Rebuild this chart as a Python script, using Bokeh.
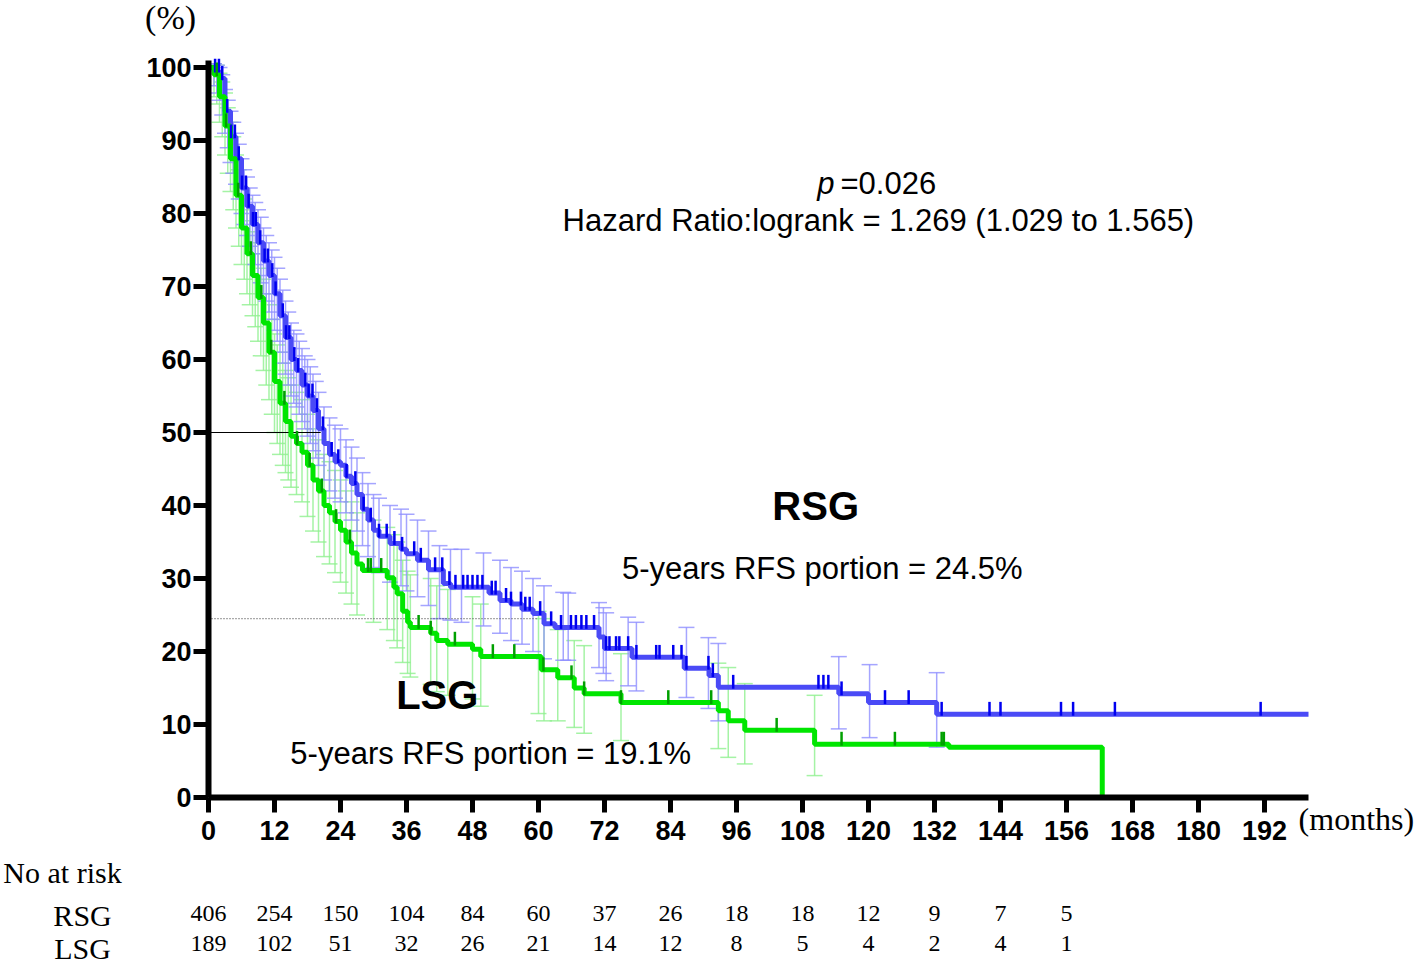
import numpy as np
from bokeh.plotting import figure
from bokeh.models import Range1d, FixedTicker, ColumnDataSource, Whisker, TeeHead
from bokeh.core.properties import value
from bokeh.embed import file_html
from bokeh.resources import INLINE

# ---------------- data ----------------
x_ticks = [0, 12, 24, 36, 48, 60, 72, 84, 96, 108, 120, 132, 144, 156, 168, 180, 192]
y_ticks = [0, 10, 20, 30, 40, 50, 60, 70, 80, 90, 100]

rsg_t = [0, 1, 2, 3, 4, 5, 6, 7, 8, 9, 10, 11, 12, 13, 14, 15, 16, 17, 18, 19, 20, 21, 22, 23, 24,
         25, 26, 27, 28, 29, 30, 31, 33, 35, 36, 38, 40, 42.7, 44, 51, 53, 55, 57, 59, 61, 63,
         71, 72, 77, 86.5, 91, 92.7, 114.6, 120, 132.4, 200]
rsg_s = [100, 99.5, 98.5, 94, 90.5, 87.5, 83.5, 81, 78.5, 76, 73.5, 71.5, 69, 66, 63, 60, 58.5, 56.5,
         55, 53, 50.5, 48.5, 47, 46, 45.5, 44, 43, 41.5, 39.5, 38, 36.6, 35.8, 34.8, 34, 33.4, 32.5,
         31.2, 29.3, 28.8, 28, 27, 26.5, 25.8, 25.2, 23.8, 23.3, 22, 20.4, 19.2, 17.7, 16.7, 15.1,
         14.2, 13, 11.4, 11.4]

lsg_t = [0, 1, 2, 3, 4, 5, 6, 7, 8, 9, 10, 11, 12, 13, 14, 15, 16, 17, 18, 19, 20, 21, 22, 23, 24,
         25, 26, 27, 28, 32.5, 33.7, 34.3, 35.3, 36.2, 36.7, 40.4, 41.5, 43.5, 48, 49.5, 60.5, 63.5,
         66.5, 68.3, 75, 92.7, 94.5, 97.5, 110.2, 134.6, 162.5]
lsg_s = [100, 99, 96, 92, 87.5, 82.5, 78, 74.5, 71.5, 68.5, 65, 61, 57, 54, 51.5, 49.5, 48.5, 47.3,
         45.5, 43.5, 42, 40, 39, 37.8, 36.6, 35, 33.5, 32, 31.1, 30.1, 28.8, 27.9, 25.5, 24, 23.3,
         22.5, 21.5, 21, 20.3, 19.3, 17.5, 16.4, 15, 14.2, 13, 11.9, 10.5, 9.2, 7.3, 6.9, 0]

rsg_censor = [1.2, 1.9, 2.5, 3.4, 4.1, 4.8, 5.5, 6.1, 6.8, 7.3, 8.1, 8.6, 9.4, 10.2, 10.8, 11.6, 12.2,
              13.5, 14.1, 14.7, 15.6, 16.3, 17.6, 18.2, 18.9, 19.7, 20.8, 22.4, 23.6, 25.1, 26.7,
              28.2, 29.5, 31.0, 32.4, 33.8, 35.2, 37.4, 38.6, 41.2, 42.5, 43.8, 44.9, 46.3, 47.1,
              48.0, 48.9, 49.8, 51.5, 52.2, 54.1, 55.0, 56.8, 57.6, 58.4, 60.3, 62.3, 64.1, 65.9,
              66.8, 67.8, 68.7, 70.1, 72.3, 72.9, 74.1, 74.7, 76.3, 77.8, 81.4, 82.0, 84.5, 86.0,
              86.9, 90.9, 91.7, 95.4, 110.9, 111.8, 112.7, 115.1, 123.0, 127.3, 133.3, 142.0, 144.0,
              155.0, 157.2, 164.8, 191.3]
lsg_censor = [1.5, 3.2, 5.4, 7.7, 9.6, 11.4, 13.8, 16.1, 18.4, 20.6, 23.2, 25.7, 29.0, 29.5, 31.4,
              38.2, 40.4, 44.8, 51.7, 55.6, 60.9, 66.0, 68.3, 75.0, 83.6, 91.4, 103.3, 115.1, 124.8,
              133.3, 133.7]

rsg_ci_t = [1, 1.5, 2, 2.5, 3, 3.5, 4, 4.5, 5, 5.5, 6, 6.5, 7, 7.5, 8, 8.5, 9, 9.5, 10, 10.5, 11,
            11.5, 12, 12.5, 13, 13.5, 14, 14.5, 15, 15.5, 16, 16.5, 17, 17.5, 18, 18.5, 19, 19.5,
            20, 21, 22, 23, 24, 25, 26, 27, 28, 29, 30, 31, 33, 35, 36, 38, 40, 42, 44, 46, 50,
            53, 55, 57, 59, 61, 64.5, 65.4, 71, 71.8, 72.3, 76.3, 77.8, 86.9, 90.9, 92.7, 114.6,
            120.2, 132.4]
rsg_ci_lo = [97.5, 96.5, 95.5, 93.5, 91, 89, 87, 85.5, 84, 82, 80, 78.5, 77, 75.5, 74.5, 73, 71.5,
             70.5, 69, 68, 66.5, 65.5, 64, 62.5, 61, 59.5, 58, 56.5, 55, 54, 53.5, 52.5, 51.5, 50.5,
             49.5, 48.5, 47.5, 46.5, 45.5, 43.5, 42, 41, 40.5, 39, 38, 36.5, 34.5, 33, 31.5, 30.8,
             29.5, 29, 28.3, 27.5, 26.3, 24.5, 24.3, 24, 23.5, 22.5, 21.5, 21, 20, 19, 18.8, 18.8,
             17.8, 17, 16, 15.3, 14.6, 13.7, 12.2, 10.5, 9.4, 8.2, 6.9]
rsg_ci_hi = [100.5, 100.3, 100, 99, 97, 95.5, 94, 92.5, 91, 89.5, 87.5, 86, 85, 83.5, 82.5, 81.5,
             80.5, 79.5, 78, 77, 76, 75, 74, 72.5, 71, 69.5, 68, 66.5, 65, 64, 63.5, 62.5, 61.5,
             60.5, 60, 59, 58, 57, 55.5, 53.5, 52, 51, 50.5, 49, 48, 46.5, 44.5, 43, 41.5, 41, 40,
             39.5, 38.8, 38, 36.5, 34.5, 34, 34, 33.5, 32.5, 31.5, 31, 30, 29, 28.1, 28, 26.7, 26,
             25.3, 24.7, 24, 23.3, 21.9, 21.1, 19.3, 18.2, 17.1]

lsg_ci_t = [1, 1.5, 2, 2.5, 3, 3.5, 4, 4.5, 5, 5.5, 6, 6.5, 7, 7.5, 8, 8.5, 9, 9.5, 10, 10.5, 11,
            11.5, 12, 12.5, 13, 13.5, 14, 14.5, 15, 16, 17, 18, 19, 20, 21, 22, 23, 24, 25, 26, 27,
            30, 32.5, 33.7, 34.3, 35.3, 36.2, 36.7, 40.4, 41.5, 43.5, 48, 49.5, 60, 61, 63.5, 66.5,
            68.3, 75, 92.7, 94.5, 97.5, 110.2]
lsg_ci_lo = [96, 95, 92.5, 90.5, 88, 85.5, 83, 80.5, 78, 75.5, 73, 71, 69, 67.5, 66, 64.5, 62.5,
             60.5, 58.5, 56.5, 54.5, 52.5, 50, 48.5, 47, 45.5, 44.5, 43.5, 42.5, 41.5, 40.5, 38.5,
             36.5, 35, 33, 32, 30.8, 29.5, 28, 26.5, 25, 24, 23, 21.5, 20.5, 18.5, 17, 16.5, 15.5,
             14.5, 14, 13.5, 12.5, 11.5, 10.5, 10.5, 9.6, 8.8, 7.8, 6.7, 5.5, 4.6, 3]
lsg_ci_hi = [100.5, 100.3, 99.2, 98, 96.5, 94.5, 92.5, 90.5, 88, 86, 83.5, 82, 80.5, 79, 77.5, 76,
             74.5, 72.5, 71, 69, 67.5, 65.5, 63.5, 62, 61, 59.5, 58.5, 57.5, 56.5, 55.5, 54.5, 52.5,
             50.5, 49, 47, 46, 44.8, 43.5, 42, 40.5, 39, 38, 37, 36, 35, 32.5, 31, 30.5, 30, 29,
             28.5, 27.5, 26.5, 25.5, 24.5, 23, 21.5, 20.8, 19.7, 18.4, 17.8, 15.6, 14]

median_rsg = 20.4
five_year = 60
rfs5_rsg = 24.5

risk_months = [0, 12, 24, 36, 48, 60, 72, 84, 96, 108, 120, 132, 144, 156]
risk_rsg = ["406", "254", "150", "104", "84", "60", "37", "26", "18", "18", "12", "9", "7", "5"]
risk_lsg = ["189", "102", "51", "32", "26", "21", "14", "12", "8", "5", "4", "2", "4", "1"]

# ---------------- colours ----------------
BLUE_LINE = "#4a4af6"
BLUE_CENS = "#0000f0"
BLUE_CI = "#8f8fff"
GREEN_LINE = "#00e600"
GREEN_CENS = "#00a000"
GREEN_CI = "#8ff08f"

W, H = 1418, 964
# frame covers whole canvas; axes are pinned at x=0 / y=0
p = figure(width=W, height=H,
           x_range=Range1d(-208 / 5.5, (W - 208) / 5.5),
           y_range=Range1d((797 - H) / 7.3, 797 / 7.3),
           output_backend="svg", toolbar_location=None,
           min_border_left=0, min_border_right=0, min_border_top=0, min_border_bottom=0)
p.grid.visible = False
p.outline_line_color = None

p.xaxis.fixed_location = 0
p.yaxis.fixed_location = 0
p.xaxis.bounds = (0, 200)
p.yaxis.bounds = (0, 101)

for ax, ticks in ((p.xaxis, x_ticks), (p.yaxis, y_ticks)):
    ax.ticker = FixedTicker(ticks=ticks)
    ax.axis_line_width = 6
    ax.axis_line_color = "black"
    ax.major_tick_line_width = 5
    ax.major_tick_out = 15
    ax.major_tick_in = 0
    ax.minor_tick_out = 0
    ax.minor_tick_in = 0
    ax.major_label_text_font = "Liberation Sans"
    ax.major_label_text_font_style = "bold"
    ax.major_label_text_color = "black"
    ax.major_label_text_font_size = "27px"
p.xaxis.major_label_standoff = 8
p.yaxis.major_label_standoff = 2

# reference lines
p.line([0, median_rsg], [50, 50], line_color="black", line_width=1.2)
p.line([0, five_year], [rfs5_rsg, rfs5_rsg], line_color="#555555", line_width=1.2, line_dash="1 2")

# confidence interval whiskers
def add_ci(t, lo, hi, color):
    src = ColumnDataSource(dict(base=t, lower=lo, upper=hi))
    w = Whisker(source=src, base="base", lower="lower", upper="upper", dimension="height",
                line_color=color, line_alpha=0.8, line_width=1.5, level="underlay")
    w.upper_head = TeeHead(size=16, line_color=color, line_alpha=0.8, line_width=1.5)
    w.lower_head = TeeHead(size=16, line_color=color, line_alpha=0.8, line_width=1.5)
    p.add_layout(w)

add_ci(lsg_ci_t, lsg_ci_lo, lsg_ci_hi, GREEN_CI)
add_ci(rsg_ci_t, rsg_ci_lo, rsg_ci_hi, BLUE_CI)

# survival curves
p.step(rsg_t, rsg_s, mode="after", line_color=BLUE_LINE, line_width=5)
p.step(lsg_t, lsg_s, mode="after", line_color=GREEN_LINE, line_width=5)

def surv_at(times, t_arr, s_arr):
    t_arr = np.asarray(t_arr, float)
    s_arr = np.asarray(s_arr, float)
    idx = np.searchsorted(t_arr, np.asarray(times, float), side="right") - 1
    return s_arr[idx]

rc = surv_at(rsg_censor, rsg_t, rsg_s)
p.segment(x0=rsg_censor, y0=rc - 0.2, x1=rsg_censor, y1=rc + 1.7, line_color=BLUE_CENS, line_width=2.5)
lc = surv_at(lsg_censor, lsg_t, lsg_s)
p.segment(x0=lsg_censor, y0=lc - 0.2, x1=lsg_censor, y1=lc + 1.7, line_color=GREEN_CENS, line_width=2.5)

# annotations
SANS = value("Liberation Sans")
SERIF = value("Liberation Serif")

def txt(x, y, t, size, align="center", font=SANS, style="normal"):
    p.text(x=[x], y=[y], text=[t], text_font=font, text_font_style=style, text_font_size=size,
           text_align=align, text_baseline="middle", text_color="black")

txt(110.7, 84.1, "p", "31px", "left", style="italic")
txt(114.9, 84.1, "=0.026", "31px", "left")
txt(121.8, 79.0, "Hazard Ratio:logrank = 1.269 (1.029 to 1.565)", "31px")
txt(110.4, 39.9, "RSG", "40px", style="bold")
txt(111.6, 31.4, "5-years RFS portion = 24.5%", "31px")
txt(41.6, 14.0, "LSG", "40px", style="bold")
txt(51.3, 6.0, "5-years RFS portion = 19.1%", "31px")

txt(-6.9, 106.8, "(%)", "34px", font=SERIF)
txt(198.2, -2.9, "(months)", "32px", "left", font=SERIF)
txt(-37.3, -10.3, "No at risk", "30px", "left", font=SERIF)
txt(-22.9, -16.2, "RSG", "30px", font=SERIF)
txt(-22.9, -20.7, "LSG", "30px", font=SERIF)

p.text(x=risk_months, y=[-15.9] * len(risk_months), text=risk_rsg, text_font=SERIF,
       text_font_size="24px", text_align="center", text_baseline="middle", text_color="black")
p.text(x=risk_months, y=[-20.0] * len(risk_months), text=risk_lsg, text_font=SERIF,
       text_font_size="24px", text_align="center", text_baseline="middle", text_color="black")

open("out.html", "w").write(file_html(p, INLINE))
